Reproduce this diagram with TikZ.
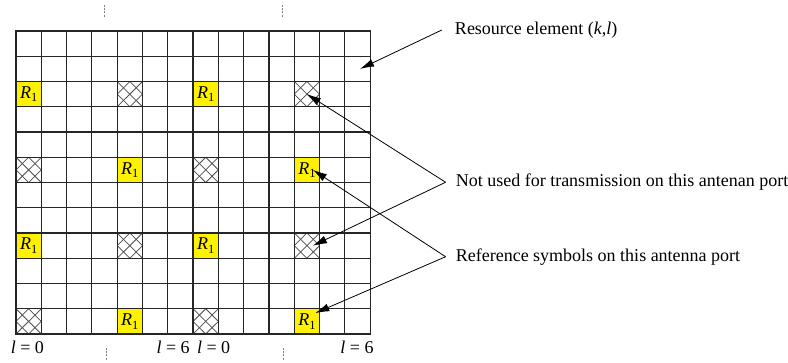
\documentclass[tikz,border=0pt]{standalone}
\usepackage{fontspec}
\setmainfont{Liberation Serif}
\usetikzlibrary{arrows.meta}
\tikzset{
    gridline/.style={line width=1.2pt, black!85},
    hatchline/.style={line width=0.75pt, black!70},
    refcell/.style={fill=yellow, inner sep=0pt, minimum width=25.3pt, minimum height=25.25pt},
    nucell/.style={inner sep=0pt, minimum width=25.3pt, minimum height=25.25pt,
        path picture={
            \foreach \k/\m in {-1.5/0.5,-1/1,-0.5/1.5}{
                \draw[hatchline] ([shift={(\k,-1)}]path picture bounding box.center) -- ++(2,2);
                \draw[hatchline] ([shift={(\m,-1)}]path picture bounding box.center) -- ++(-2,2);
            }}},
    lbl/.style={anchor=west, inner xsep=10pt, inner ysep=0pt},
    pointer/.style={-{Latex[length=14pt,width=8pt]}, line width=0.8pt},
    slotmark/.style={gray, line width=0.6pt, dash pattern=on 2pt off 1.2pt}
}
\newcommand{\rsym}{\textit{R}\raisebox{-3.5pt}{\fontsize{12.5}{13}\selectfont 1}}

\begin{document}
\begin{tikzpicture}[x=25.3pt, y=-25.25pt, font=\fontsize{18}{21}\selectfont]
    \useasboundingbox (-0.632,-1.228) rectangle (30.514,13.109);
    % reference symbols and unused elements
    \foreach \r/\c in {2/0,2/7,5/4,5/11,8/0,8/7,11/4,11/11}
        \node[refcell] (ref-\r-\c) at (\c+0.5,\r+0.5) {\rsym};
    \foreach \r/\c in {2/4,2/11,5/0,5/7,8/4,8/11,11/0,11/7}
        \node[nucell] (nu-\r-\c) at (\c+0.5,\r+0.5) {};
    % resource grid
    \foreach \i in {0,...,14}
        \draw[gridline] (\i,0) -- (\i,12);
    \foreach \j in {0,...,12}
        \draw[gridline] (0,\j) -- (14,\j);
    \draw[gridline] (0,0) rectangle (14,12);
    % slot marks
    \draw[slotmark] (3.5,-1.03) -- (3.5,-0.54);
    \draw[slotmark] (10.53,-1.03) -- (10.53,-0.54);
    \draw[slotmark] (3.55,12.55) -- (3.55,13.03);
    \draw[slotmark] (10.55,12.55) -- (10.55,13.03);
    % symbol indices
    \node[anchor=base] (l0a) at (0.45,12.79) {\textit{l} = 0};
    \node[anchor=base] (l6a) at (6.21,12.79) {\textit{l} = 6};
    \node[anchor=base] (l0b) at (7.81,12.79) {\textit{l} = 0};
    \node[anchor=base] (l6b) at (13.48,12.79) {\textit{l} = 6};
    % legend
    \node[lbl, inner xsep=13pt] (relbl) at (16.83,-0.04) {Resource element (\textit{k},\textit{l})};
    \node[lbl] (nulbl) at (16.98,5.99) {Not used for transmission on this antenan port};
    \node[lbl] (rslbl) at (16.98,8.94) {Reference symbols on this antenna port};
    \coordinate (re) at (13.6,1.5);
    \draw[pointer] (relbl.west) -- (re);
    \draw[pointer] (nulbl.west) -- (nu-2-11.center);
    \draw[pointer] (nulbl.west) -- ([xshift=6pt]nu-8-11.center);
    \draw[pointer] (rslbl.west) -- ([xshift=6pt]ref-5-11.center);
    \draw[pointer] (rslbl.west) -- ([shift={(-4.5pt,-4.5pt)}]ref-11-11.north east);
\end{tikzpicture}
\end{document}
